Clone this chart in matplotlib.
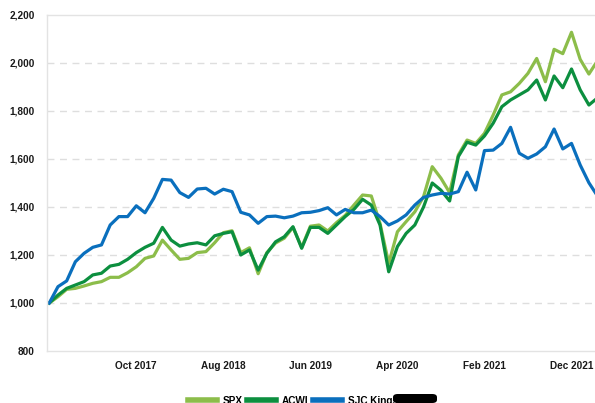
import matplotlib
matplotlib.use("Agg")
import matplotlib.pyplot as plt
from matplotlib.patches import FancyBboxPatch
from matplotlib.ticker import FuncFormatter

# --- Data (monthly, growth of 1,000 from Dec 2016) ---
spx = [1000, 1026, 1057, 1061, 1071, 1082, 1089, 1107, 1107, 1126,
       1151, 1186, 1196, 1262, 1221, 1182, 1186, 1210, 1214, 1251,
       1293, 1301, 1210, 1230, 1122, 1210, 1250, 1270, 1315, 1232,
       1320, 1325, 1300, 1335, 1365, 1408, 1450, 1446, 1332, 1165,
       1297, 1339, 1380, 1443, 1568, 1520, 1460, 1617, 1679, 1665,
       1707, 1783, 1867, 1880, 1915, 1957, 2019, 1922, 2057, 2039,
       2128, 2015, 1954, 2010]
acwi = [1000, 1033, 1061, 1075, 1089, 1117, 1124, 1154, 1161, 1182,
        1210, 1232, 1249, 1315, 1262, 1237, 1246, 1251, 1242, 1280,
        1290, 1297, 1200, 1221, 1137, 1207, 1255, 1276, 1318, 1228,
        1315, 1315, 1290, 1325, 1360, 1390, 1432, 1408, 1325, 1130,
        1235, 1290, 1325, 1400, 1500, 1470, 1425, 1610, 1670, 1658,
        1696, 1749, 1818, 1846, 1867, 1888, 1929, 1846, 1946, 1897,
        1975, 1888, 1825, 1855]
sjc = [1000, 1068, 1092, 1172, 1207, 1232, 1242, 1325, 1360, 1360,
       1405, 1376, 1436, 1515, 1512, 1460, 1440, 1475, 1478, 1454,
       1474, 1464, 1378, 1367, 1332, 1360, 1362, 1355, 1362, 1376,
       1378, 1385, 1397, 1367, 1390, 1376, 1376, 1387, 1360, 1325,
       1342, 1367, 1408, 1440, 1450, 1457, 1454, 1464, 1545, 1471,
       1635, 1637, 1665, 1732, 1624, 1603, 1621, 1651, 1725, 1642,
       1665, 1575, 1501, 1445]
tick_pos = [10, 20, 30, 40, 50, 60]
tick_labels = ["Oct 2017", "Aug 2018", "Jun 2019", "Apr 2020", "Feb 2021", "Dec 2021"]

# --- Style ---
plt.rcParams['font.family'] = ['Liberation Sans', 'DejaVu Sans']
FS = 7.2
C_SPX = "#8cbd4a"
C_ACWI = "#0c8f3f"
C_SJC = "#0a6fbd"

fig = plt.figure(figsize=(5.95, 4.03), dpi=100)
ax = fig.add_axes([47 / 595, 1 - 351 / 403, 1 - 47 / 595, (351 - 15) / 403])

x = list(range(len(spx)))
ax.plot(x, spx, color=C_SPX, lw=2.3, label="SPX", solid_joinstyle="round")
ax.plot(x, acwi, color=C_ACWI, lw=2.3, label="ACWI", solid_joinstyle="round")
ax.plot(x, sjc, color=C_SJC, lw=2.3, label="SJC Kings", solid_joinstyle="round")

ax.set_xlim(-0.26, 62.7)
ax.set_ylim(800, 2200)
ax.set_yticks(range(800, 2201, 200))
ax.yaxis.set_major_formatter(FuncFormatter(lambda v, p: f"{int(v):,}"))
ax.set_xticks(tick_pos)
ax.set_xticklabels(tick_labels)
ax.tick_params(length=0, labelsize=FS, pad=7)
ax.tick_params(axis='y', pad=9)
for lab in ax.get_xticklabels() + ax.get_yticklabels():
    lab.set_fontweight("bold")
    lab.set_color("#1a1a1a")

# grid: dashed light gray, solid top and bottom
for v in range(1000, 2200, 200):
    ax.axhline(v, color="#dedede", lw=1, ls=(0, (5, 4)), zorder=0)
ax.spines["right"].set_visible(False)
for s in ["top", "bottom", "left"]:
    ax.spines[s].set_color("#e3e3e3")
    ax.spines[s].set_linewidth(1)

# legend at the bottom edge (cut off in the original as well)
leg = fig.legend(loc="center left", bbox_to_anchor=(188 / 595, 0.006), ncol=3,
                 frameon=False, fontsize=FS, handlelength=2.9, handletextpad=0.6,
                 columnspacing=0.4, borderpad=0, borderaxespad=0)
for t in leg.get_texts():
    t.set_fontweight("bold")
for h in leg.get_lines():
    h.set_linewidth(4)

# redacted box after legend label
fig.patches.append(FancyBboxPatch((393 / 595, 0), 44 / 595, 9 / 403,
                                  boxstyle="round,pad=0,rounding_size=0.008",
                                  transform=fig.transFigure, facecolor="black",
                                  edgecolor="none"))

fig.savefig("out.png", dpi=100)
